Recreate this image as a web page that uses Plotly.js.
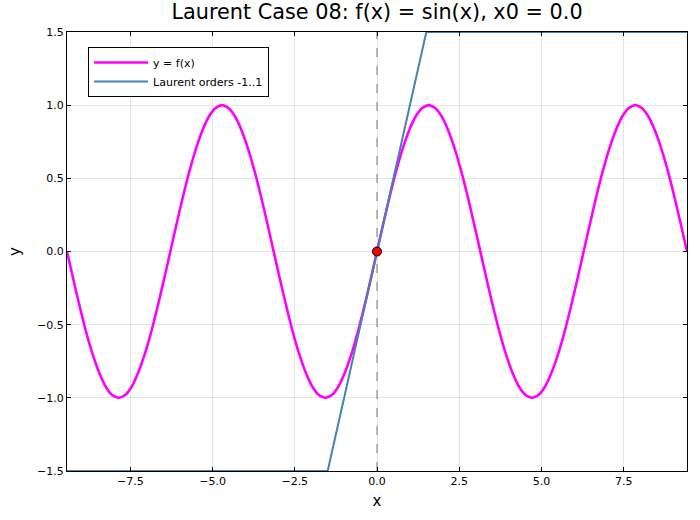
<!DOCTYPE html>
<html>
<head>
<meta charset="utf-8">
<script src="https://cdn.plot.ly/plotly-3.0.1.min.js"></script>
<style>html,body{margin:0;padding:0;background:#fff;}#chart{width:700px;height:520px;}</style>
</head>
<body>
<div id="chart"></div>
<script>
// f(x) = sin(x) read at steps of pi/16 across [-3pi, 3pi]
const fx = [-9.425,-9.228,-9.032,-8.836,-8.639,-8.443,-8.247,-8.050,-7.854,-7.658,-7.461,-7.265,-7.069,-6.872,-6.676,-6.480,
  -6.283,-6.087,-5.890,-5.694,-5.498,-5.301,-5.105,-4.909,-4.712,-4.516,-4.320,-4.123,-3.927,-3.731,-3.534,-3.338,
  -3.142,-2.945,-2.749,-2.553,-2.356,-2.160,-1.963,-1.767,-1.571,-1.374,-1.178,-0.982,-0.785,-0.589,-0.393,-0.196,
  0,0.196,0.393,0.589,0.785,0.982,1.178,1.374,1.571,1.767,1.963,2.160,2.356,2.553,2.749,2.945,
  3.142,3.338,3.534,3.731,3.927,4.123,4.320,4.516,4.712,4.909,5.105,5.301,5.498,5.694,5.890,6.087,
  6.283,6.480,6.676,6.872,7.069,7.265,7.461,7.658,7.854,8.050,8.247,8.443,8.639,8.836,9.032,9.228,9.425];
const fy = [0,-0.195,-0.383,-0.556,-0.707,-0.831,-0.924,-0.981,-1,-0.981,-0.924,-0.831,-0.707,-0.556,-0.383,-0.195,
  0,0.195,0.383,0.556,0.707,0.831,0.924,0.981,1,0.981,0.924,0.831,0.707,0.556,0.383,0.195,
  0,-0.195,-0.383,-0.556,-0.707,-0.831,-0.924,-0.981,-1,-0.981,-0.924,-0.831,-0.707,-0.556,-0.383,-0.195,
  0,0.195,0.383,0.556,0.707,0.831,0.924,0.981,1,0.981,0.924,0.831,0.707,0.556,0.383,0.195,
  0,-0.195,-0.383,-0.556,-0.707,-0.831,-0.924,-0.981,-1,-0.981,-0.924,-0.831,-0.707,-0.556,-0.383,-0.195,
  0,0.195,0.383,0.556,0.707,0.831,0.924,0.981,1,0.981,0.924,0.831,0.707,0.556,0.383,0.195,
  0];
// Laurent approximation (orders -1..1), clipped to the y limits
const lx = [-9.425,-1.5,1.5,9.425];
const ly = [-1.5,-1.5,1.5,1.5];
const x0 = [0];
const y0 = [0];
const xTicks = [-7.5,-5.0,-2.5,0.0,2.5,5.0,7.5];
const xTickText = ["−7.5","−5.0","−2.5","0.0","2.5","5.0","7.5"];
const yTicks = [-1.5,-1.0,-0.5,0.0,0.5,1.0,1.5];
const yTickText = ["−1.5","−1.0","−0.5","0.0","0.5","1.0","1.5"];
const xRange = [-9.425, 9.425];
const yRange = [-1.5, 1.5];

const traces = [
  {x: [0,0], y: yRange, mode:'lines', line:{color:'#777', width:1, dash:'dash'}, showlegend:false, hoverinfo:'skip'},
  {x: fx, y: fy, mode:'lines', name:'y = f(x)', line:{color:'#ff00ff', width:2.6, shape:'spline', smoothing:0.6}},
  {x: lx, y: ly, mode:'lines', name:'Laurent orders -1..1', line:{color:'#4682b4', width:2}},
  {x: x0, y: y0, mode:'markers', showlegend:false, marker:{color:'#ff0000', size:9, line:{color:'#000', width:1}}}
];

const axisCommon = {
  showgrid:true, gridcolor:'rgba(0,0,0,0.1)', gridwidth:1,
  zeroline:false, showline:true, linecolor:'#000', linewidth:1, mirror:'ticks',
  ticks:'inside', ticklen:4, tickcolor:'#000',
  tickfont:{family:'DejaVu Sans', size:11, color:'#000'}
};

const layout = {
  width:700, height:520,
  margin:{l:67, r:13, t:32, b:49},
  paper_bgcolor:'#fff', plot_bgcolor:'#fff',
  font:{family:'DejaVu Sans', color:'#000'},
  title:{text:'Laurent Case 08: f(x) = sin(x), x0 = 0.0', font:{family:'DejaVu Sans', size:20.8}, x:0.5, xref:'paper', y:0.977, yanchor:'middle'},
  xaxis: Object.assign({}, axisCommon, {range:xRange, tickvals:xTicks, ticktext:xTickText,
    title:{text:'x', font:{size:15}, standoff:8}}),
  yaxis: Object.assign({}, axisCommon, {range:yRange, tickvals:yTicks, ticktext:yTickText,
    title:{text:'y', font:{size:15}, standoff:12}}),
  legend:{x:0.034, y:0.966, xanchor:'left', yanchor:'top', bgcolor:'#fff', bordercolor:'#000', borderwidth:1,
    font:{family:'DejaVu Sans', size:11}, tracegroupgap:0, itemwidth:54},
  showlegend:true
};

Plotly.newPlot('chart', traces, layout, {staticPlot:true});
</script>
</body>
</html>
